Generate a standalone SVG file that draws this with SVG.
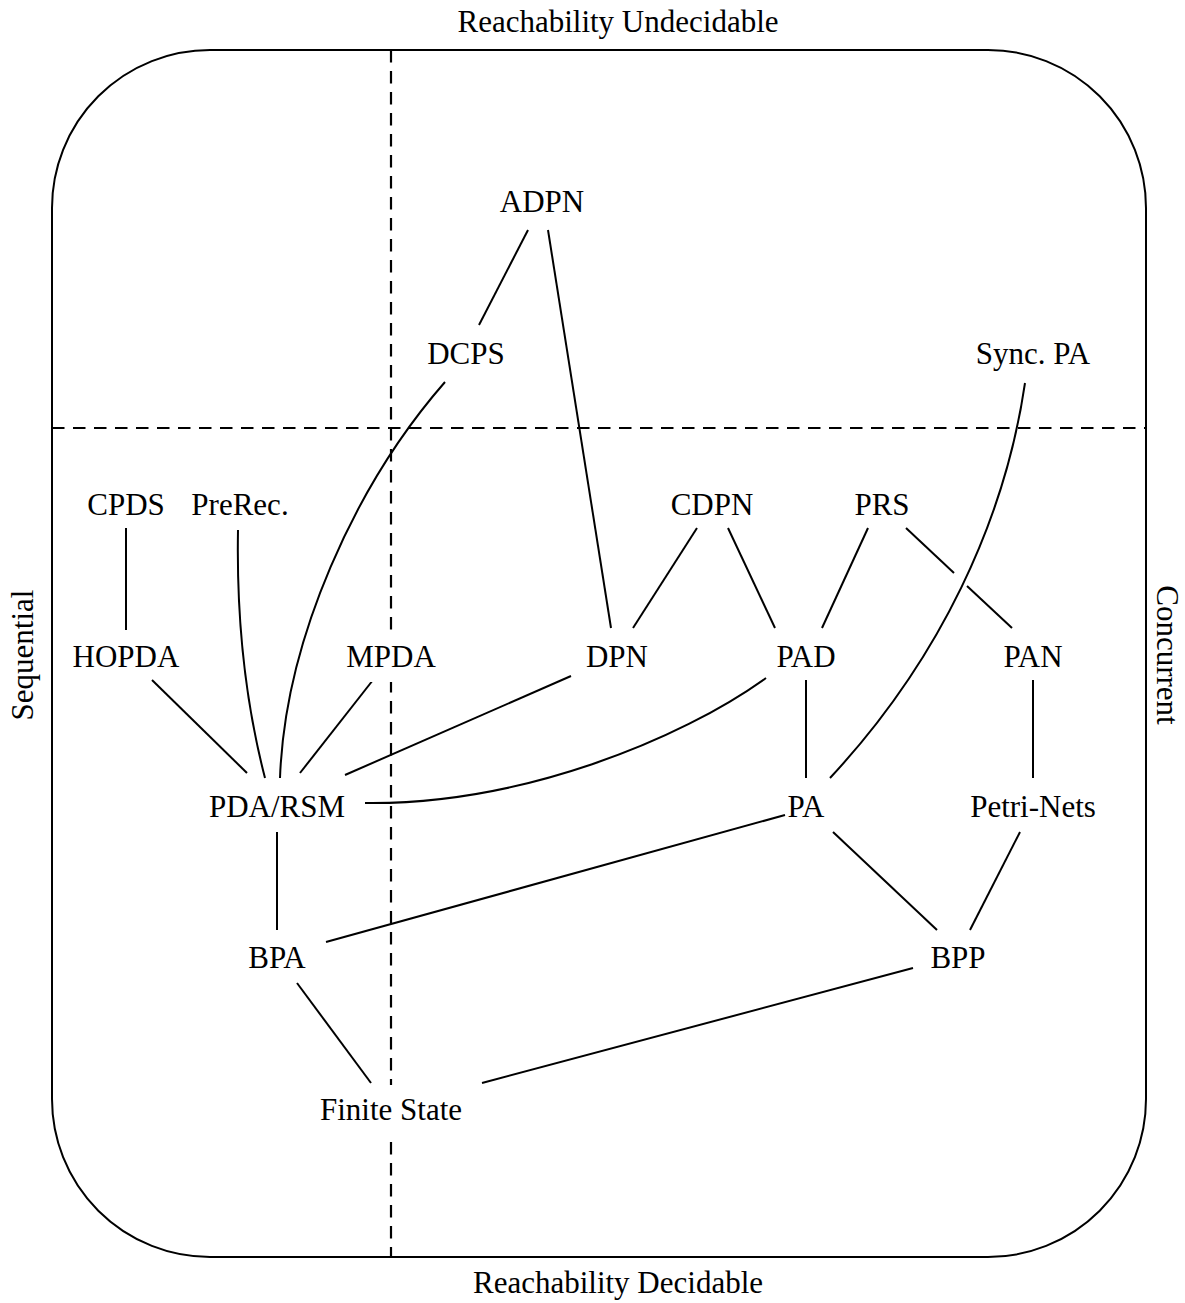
<svg xmlns="http://www.w3.org/2000/svg" width="1185" height="1303" viewBox="0 0 1185 1303">
<style>
text{font-family:"Liberation Serif","Times New Roman",serif;font-size:31px;fill:#000;text-anchor:middle}
.frame{fill:none;stroke:#000;stroke-width:2}
.dash{fill:none;stroke:#000;stroke-width:2.2;stroke-dasharray:12.5 8.5}
.edge{fill:none;stroke:#000;stroke-width:2}
.bg{fill:#fff}
</style>
<rect class="frame" x="52" y="50" width="1094" height="1207" rx="158" ry="158"/>
<g id="regions">
<line class="dash" x1="391" y1="50" x2="391" y2="1257"/>
<line class="dash" x1="52" y1="428" x2="1146" y2="428"/>
<text x="618" y="32">Reachability Undecidable</text>
<text x="618" y="1293">Reachability Decidable</text>
<text transform="translate(33,655) rotate(-90)">Sequential</text>
<text transform="translate(1157,655) rotate(90)">Concurrent</text>
</g>
<g id="connectors">
<line class="edge" x1="528" y1="230" x2="479" y2="325"/>
<line class="edge" x1="548" y1="230" x2="611" y2="628"/>
<path class="edge" d="M445,382 C355,485 285,640 280,778"/>
<line class="edge" x1="126" y1="528" x2="126" y2="630"/>
<path class="edge" d="M238,530 C236,640 250,720 265,778"/>
<line class="edge" x1="152" y1="680" x2="247" y2="773"/>
<line class="edge" x1="373" y1="680" x2="300" y2="773"/>
<line class="edge" x1="571" y1="676" x2="345" y2="775"/>
<path class="edge" d="M766,678 C680,740 520,805 365,803"/>
<line class="edge" x1="697" y1="528" x2="633" y2="628"/>
<line class="edge" x1="728" y1="528" x2="775" y2="628"/>
<line class="edge" x1="868" y1="528" x2="822" y2="628"/>
<line class="edge" x1="906" y1="528" x2="954" y2="573"/>
<line class="edge" x1="967" y1="586" x2="1012" y2="628"/>
<path class="edge" d="M1025,383 C1005,520 940,660 830,778"/>
<line class="edge" x1="806" y1="680" x2="806" y2="778"/>
<line class="edge" x1="1033" y1="680" x2="1033" y2="778"/>
<line class="edge" x1="785" y1="815" x2="326" y2="942"/>
<line class="edge" x1="833" y1="832" x2="937" y2="930"/>
<line class="edge" x1="1020" y1="832" x2="970" y2="930"/>
<line class="edge" x1="277" y1="832" x2="277" y2="930"/>
<line class="edge" x1="297" y1="983" x2="371" y2="1083"/>
<line class="edge" x1="913" y1="968" x2="482" y2="1083"/>
</g>
<g id="ADPN"><text x="542" y="212">ADPN</text></g>
<g id="DCPS"><text x="466" y="364">DCPS</text></g>
<g id="SyncPA"><text x="1033" y="364">Sync. PA</text></g>
<g id="CPDS"><text x="126" y="515">CPDS</text></g>
<g id="PreRec"><text x="240" y="515">PreRec.</text></g>
<g id="CDPN"><text x="712" y="515">CDPN</text></g>
<g id="PRS"><text x="882" y="515">PRS</text></g>
<g id="HOPDA"><text x="126" y="667">HOPDA</text></g>
<g id="MPDA"><rect class="bg" x="334" y="632" width="114" height="50"/><text x="391" y="667">MPDA</text></g>
<g id="DPN"><text x="617" y="667">DPN</text></g>
<g id="PAD"><text x="806" y="667">PAD</text></g>
<g id="PAN"><text x="1033" y="667">PAN</text></g>
<g id="PDARSM"><text x="277" y="817">PDA/RSM</text></g>
<g id="PA"><text x="806" y="817">PA</text></g>
<g id="PetriNets"><text x="1033" y="817">Petri-Nets</text></g>
<g id="BPA"><text x="277" y="968">BPA</text></g>
<g id="BPP"><text x="958" y="968">BPP</text></g>
<g id="FiniteState"><rect class="bg" x="304" y="1085" width="174" height="50"/><text x="391" y="1120">Finite State</text></g>
</svg>
